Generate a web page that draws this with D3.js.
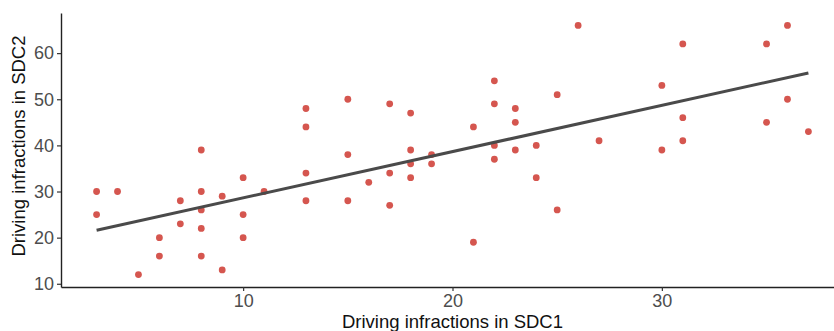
<!DOCTYPE html>
<html>
<head>
<meta charset="utf-8">
<script src="https://cdn.jsdelivr.net/npm/d3@7"></script>
<style>
  html, body { margin: 0; padding: 0; background: #fff; }
  svg { display: block; font-family: "Liberation Sans", Arial, sans-serif; }
</style>
</head>
<body>
<svg id="chart" width="834" height="331"></svg>
<script>
// infractions per driver, SDC1 vs SDC2
const sdc1 = [3, 3, 4, 5, 6, 6, 7, 7, 8, 8, 8, 8, 8, 9, 9, 10, 10, 10, 11,
  13, 13, 13, 13, 15, 15, 15, 16, 17, 17, 17, 18, 18, 18, 18, 19, 19, 21, 21,
  22, 22, 22, 22, 23, 23, 23, 24, 24, 25, 25,
  26, 27, 30, 30, 31, 31, 31, 35, 35, 36, 36, 37];
const sdc2 = [30, 25, 30, 12, 20, 16, 28, 23, 39, 30, 26, 22, 16, 29, 13, 33, 25, 20, 30,
  48, 44, 34, 28, 50, 38, 28, 32, 49, 34, 27, 47, 39, 36, 33, 38, 36, 44, 19,
  54, 49, 40, 37, 48, 45, 39, 40, 33, 51, 26,
  66, 41, 53, 39, 62, 46, 41, 62, 45, 66, 50, 43];
// lm fit line (ends at x = 3 and x = 37)
const fitX = [3, 37];
const fitY = [21.6, 55.7];
const xTicks = [10, 20, 30];
const yTicks = [10, 20, 30, 40, 50, 60];

const svg = d3.select('#chart');
const margin = { top: 13, right: -10, bottom: 44, left: 61 };
const width = +svg.attr('width') - margin.left - margin.right;
const height = +svg.attr('height') - margin.top - margin.bottom;

const data = sdc1.map((d, i) => ({ x: d, y: sdc2[i] }));

// ggplot-style 5% expansion
const xr = d3.extent(sdc1), yr = d3.extent(sdc2);
const xp = (xr[1] - xr[0]) * 0.05, yp = (yr[1] - yr[0]) * 0.05;
const x = d3.scaleLinear().domain([xr[0] - xp, xr[1] + xp]).range([0, width]);
const y = d3.scaleLinear().domain([yr[0] - yp, yr[1] + yp]).range([height, 0]);

const g = svg.append('g')
  .attr('transform', `translate(${margin.left},${margin.top})`);

g.selectAll('.pt')
  .data(data)
  .join('circle')
  .attr('class', 'pt')
  .attr('cx', d => x(d.x))
  .attr('cy', d => y(d.y))
  .attr('r', 3.4)
  .attr('fill', '#d5564f');

g.append('path')
  .datum(fitX.map((d, i) => [d, fitY[i]]))
  .attr('d', d3.line().x(d => x(d[0])).y(d => y(d[1])))
  .attr('fill', 'none')
  .attr('stroke', '#4a4a4a')
  .attr('stroke-width', 3);

const xAxis = g.append('g')
  .attr('transform', `translate(0,${height})`)
  .call(d3.axisBottom(x).tickValues(xTicks).tickSize(4).tickPadding(3).tickSizeOuter(0));
const yAxis = g.append('g')
  .call(d3.axisLeft(y).tickValues(yTicks).tickSize(4).tickPadding(3).tickSizeOuter(0));

[xAxis, yAxis].forEach(a => {
  a.select('.domain').attr('stroke', '#222').attr('stroke-width', 1.4);
  a.selectAll('.tick line').attr('stroke', '#333').attr('stroke-width', 1.2);
  a.selectAll('.tick text').attr('fill', '#4d4d4d').style('font-size', '18px');
});

g.append('text')
  .attr('text-anchor', 'middle')
  .attr('x', width / 2)
  .attr('y', height + 41)
  .style('font-size', '18.5px')
  .style('fill', '#111')
  .text('Driving infractions in SDC1');

g.append('text')
  .attr('text-anchor', 'middle')
  .attr('transform', 'rotate(-90)')
  .attr('x', -(height / 2) + 4)
  .attr('y', -margin.left + 25)
  .style('font-size', '18.5px')
  .style('fill', '#111')
  .text('Driving infractions in SDC2');
</script>
</body>
</html>
